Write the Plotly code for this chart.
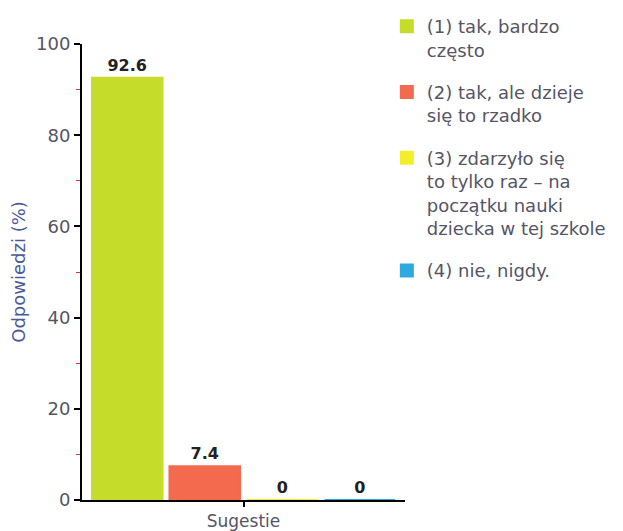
import plotly.graph_objects as go

categories = ["Sugestie"]
series_names = [
    "(1) tak, bardzo<br>często",
    "(2) tak, ale dzieje<br>się to rzadko",
    "(3) zdarzyło się<br>to tylko raz – na<br>początku nauki<br>dziecka w tej szkole",
    "(4) nie, nigdy.",
]
series_values = [92.6, 7.4, 0, 0]
series_labels = ["92.6", "7.4", "0", "0"]
colors = ["#c6dc2a", "#f46a4e", "#f2ee2a", "#2fa8e0"]

fig = go.Figure()
for i, (n, v, lab, c) in enumerate(zip(series_names, series_values, series_labels, colors)):
    fig.add_trace(go.Bar(
        x=categories, y=[v], name=n, text=[lab], textposition="outside",
        textfont=dict(family="DejaVu Sans", size=16, color="#222222", weight="bold"),
        marker=dict(color=c, line=dict(color=c, width=2)),
        legendgroup=f"g{i}", cliponaxis=False,
    ))

fig.update_layout(
    width=615, height=523,
    margin=dict(l=74, r=218, t=36, b=31, autoexpand=False),
    barmode="group", bargap=0.04, bargroupgap=0.09,
    plot_bgcolor="white", paper_bgcolor="white",
    font=dict(family="DejaVu Sans", size=18, color="#555566"),
    showlegend=True,
    legend=dict(xref="container", yref="container", x=0.616, xanchor="left",
                y=1.0, yanchor="top", maxheight=0.98,
                traceorder="grouped", tracegroupgap=16, valign="top",
                font=dict(size=18, color="#555566"),
                itemwidth=30, bgcolor="rgba(0,0,0,0)"),
)
fig.update_xaxes(
    showline=True, linecolor="black", linewidth=2, layer="below traces",
    ticks="outside", tickcolor="black", ticklen=5, tickwidth=2, automargin=False,
    tickfont=dict(size=17, color="#555566"),
)
fig.update_yaxes(
    range=[0, 100], dtick=20, showgrid=False, zeroline=False,
    showline=True, linecolor="black", linewidth=2, automargin=False,
    ticks="outside", tickcolor="black", ticklen=6, tickwidth=2,
    minor=dict(ticks="outside", dtick=10, ticklen=4, tickcolor="#e03030", tickwidth=1),
    title=dict(text="Odpowiedzi (%)", font=dict(size=18, color="#4a5a9a"), standoff=12),
    tickfont=dict(size=18, color="#555566"),
)

fig.write_html("out.html")
